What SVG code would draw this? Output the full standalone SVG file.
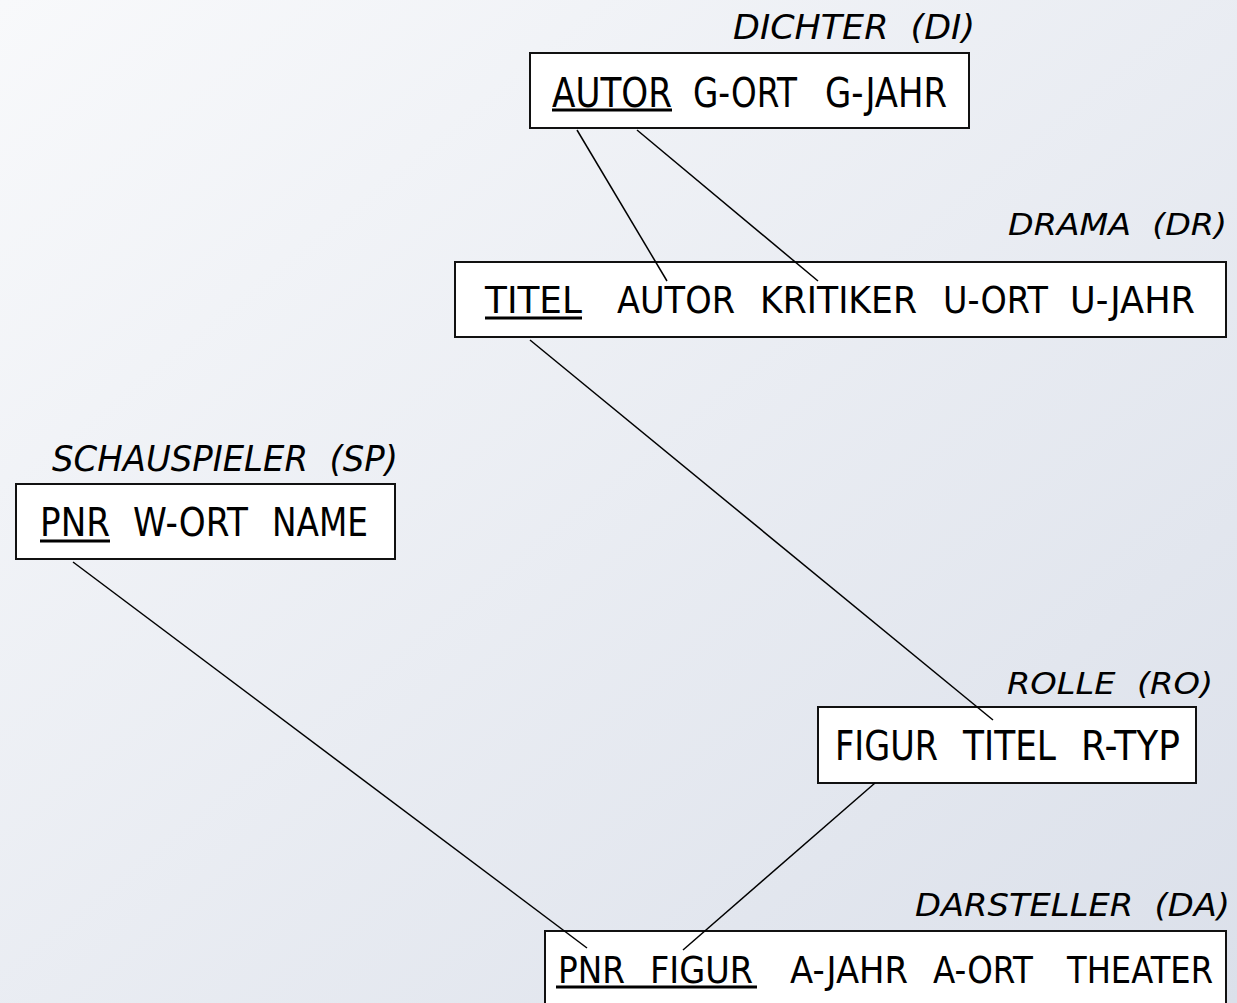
<svg xmlns="http://www.w3.org/2000/svg" width="1237" height="1003" viewBox="0 0 1237 1003">
<defs>
<linearGradient id="bg" x1="0" y1="0" x2="1" y2="1">
<stop offset="0" stop-color="#f8f9fb"/>
<stop offset="1" stop-color="#dbe0ea"/>
</linearGradient>
<style>
.box{fill:#fff;stroke:#111;stroke-width:2}
.t{font-family:"DejaVu Sans","Liberation Sans",sans-serif;fill:#000}
.lbl{font-family:"DejaVu Sans","Liberation Sans",sans-serif;font-style:italic;fill:#000}
.ul{stroke:#000;stroke-width:3}
.con line{stroke:#000;stroke-width:1.5}
</style>
</defs>
<rect x="0" y="0" width="1237" height="1003" fill="url(#bg)"/>

<g id="DI">
<text class="lbl" x="733" y="39" font-size="33" textLength="242" lengthAdjust="spacingAndGlyphs" xml:space="preserve">DICHTER  (DI)</text>
<rect class="box" x="530" y="53" width="439" height="75"/>
<g class="t" font-size="41">
<text x="552" y="107" textLength="120" lengthAdjust="spacingAndGlyphs">AUTOR</text>
<text x="693" y="107" textLength="104" lengthAdjust="spacingAndGlyphs">G-ORT</text>
<text x="825" y="107" textLength="122" lengthAdjust="spacingAndGlyphs">G-JAHR</text>
</g>
<line class="ul" x1="552" y1="110" x2="672" y2="110"/>
</g>

<g id="DR">
<text class="lbl" x="1008" y="235" font-size="31" textLength="219" lengthAdjust="spacingAndGlyphs" xml:space="preserve">DRAMA  (DR)</text>
<rect class="box" x="455" y="262" width="771" height="75"/>
<g class="t" font-size="38">
<text x="485" y="313" textLength="97" lengthAdjust="spacingAndGlyphs">TITEL</text>
<text x="617" y="313" textLength="118" lengthAdjust="spacingAndGlyphs">AUTOR</text>
<text x="760" y="313" textLength="157" lengthAdjust="spacingAndGlyphs">KRITIKER</text>
<text x="943" y="313" textLength="105" lengthAdjust="spacingAndGlyphs">U-ORT</text>
<text x="1070" y="313" textLength="125" lengthAdjust="spacingAndGlyphs">U-JAHR</text>
</g>
<line class="ul" x1="485" y1="318" x2="582" y2="318"/>
</g>

<g id="SP">
<text class="lbl" x="52" y="471" font-size="35" textLength="346" lengthAdjust="spacingAndGlyphs" xml:space="preserve">SCHAUSPIELER  (SP)</text>
<rect class="box" x="16" y="484" width="379" height="75"/>
<g class="t" font-size="39">
<text x="40" y="536" textLength="70" lengthAdjust="spacingAndGlyphs">PNR</text>
<text x="133" y="536" textLength="115" lengthAdjust="spacingAndGlyphs">W-ORT</text>
<text x="272" y="536" textLength="96" lengthAdjust="spacingAndGlyphs">NAME</text>
</g>
<line class="ul" x1="40" y1="541" x2="110" y2="541"/>
</g>

<g id="RO">
<text class="lbl" x="1007" y="694" font-size="31" textLength="206" lengthAdjust="spacingAndGlyphs" xml:space="preserve">ROLLE  (RO)</text>
<rect class="box" x="818" y="707" width="378" height="76"/>
<g class="t" font-size="40">
<text x="835" y="760" textLength="103" lengthAdjust="spacingAndGlyphs">FIGUR</text>
<text x="963" y="760" textLength="93" lengthAdjust="spacingAndGlyphs">TITEL</text>
<text x="1081" y="760" textLength="99" lengthAdjust="spacingAndGlyphs">R-TYP</text>
</g>
</g>

<g id="DA">
<text class="lbl" x="915" y="916" font-size="32" textLength="315" lengthAdjust="spacingAndGlyphs" xml:space="preserve">DARSTELLER  (DA)</text>
<rect class="box" x="545" y="931" width="681" height="90"/>
<g class="t" font-size="38">
<text x="558" y="983" textLength="67" lengthAdjust="spacingAndGlyphs">PNR</text>
<text x="650" y="983" textLength="103" lengthAdjust="spacingAndGlyphs">FIGUR</text>
<text x="790" y="983" textLength="118" lengthAdjust="spacingAndGlyphs">A-JAHR</text>
<text x="933" y="983" textLength="100" lengthAdjust="spacingAndGlyphs">A-ORT</text>
<text x="1067" y="983" textLength="146" lengthAdjust="spacingAndGlyphs">THEATER</text>
</g>
<line class="ul" x1="556" y1="987" x2="757" y2="987"/>
</g>

<g id="connectors" class="con">
<line x1="577" y1="130" x2="667" y2="281"/>
<line x1="637" y1="130" x2="818" y2="281"/>
<line x1="530" y1="340" x2="993" y2="720"/>
<line x1="73" y1="562" x2="587" y2="948"/>
<line x1="875" y1="783" x2="683" y2="950"/>
</g>
</svg>
